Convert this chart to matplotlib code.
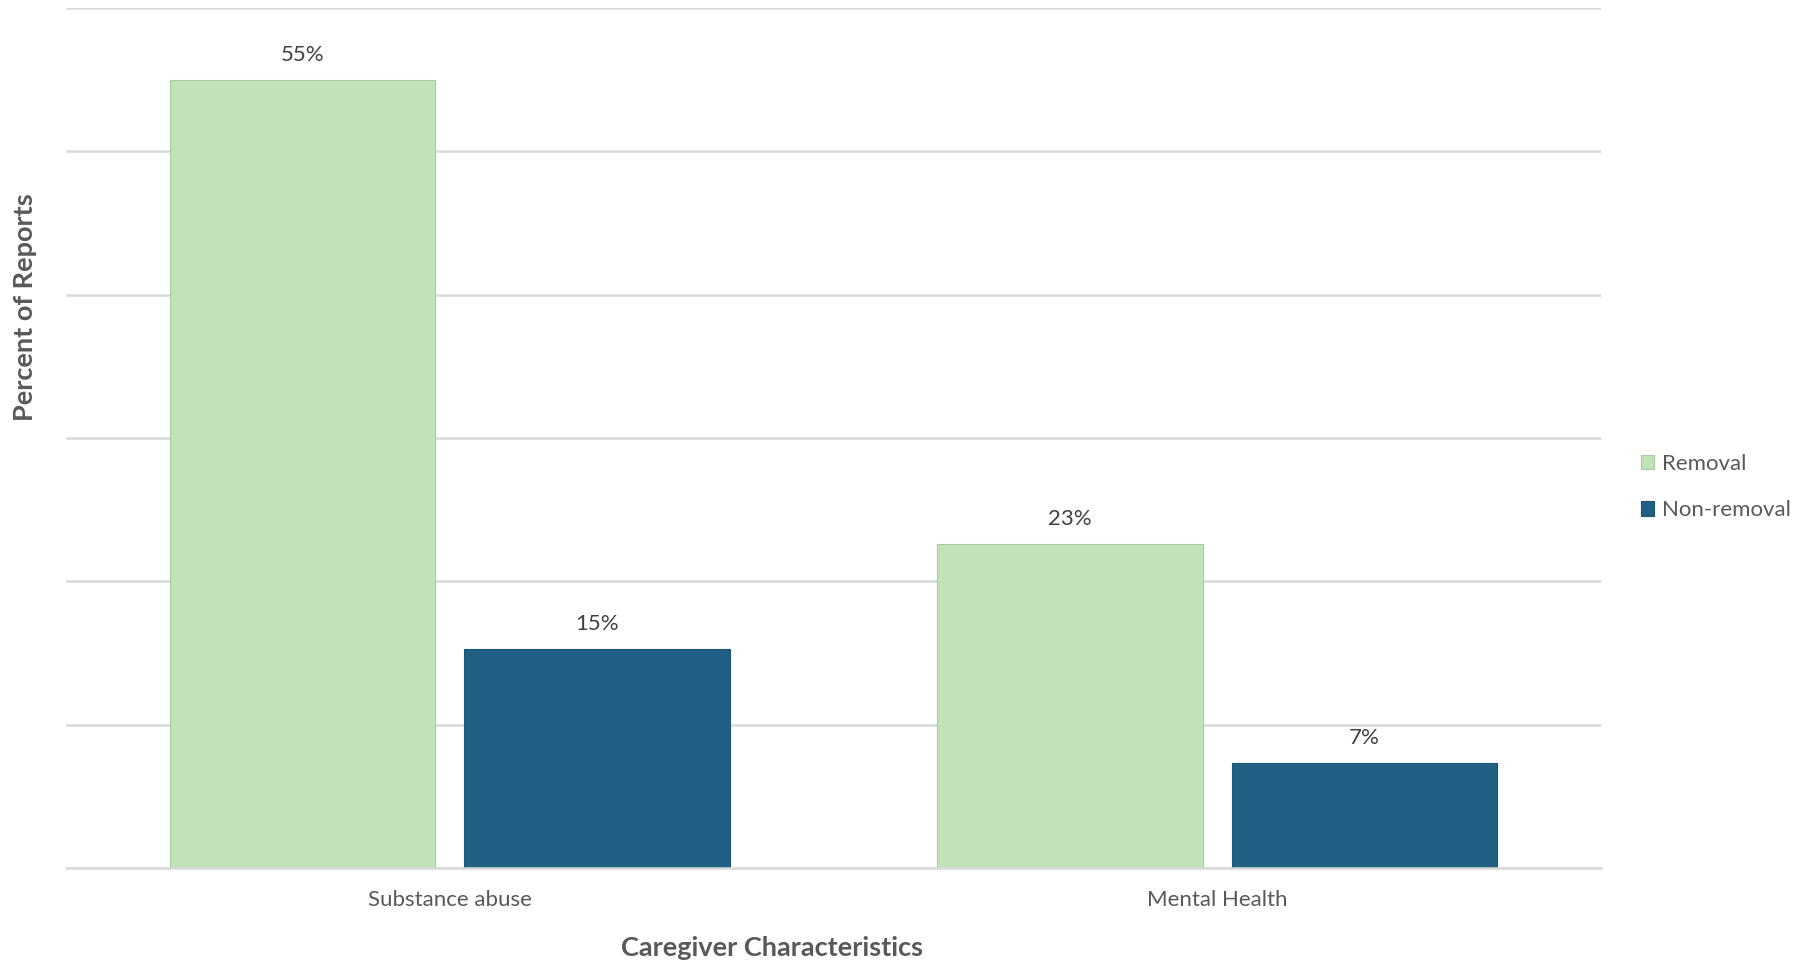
import matplotlib.pyplot as plt
import numpy as np

plt.rcParams['font.family'] = ['Lato', 'DejaVu Sans']

categories = ["Substance abuse", "Mental Health"]
removal = [55, 22.6]
non_removal = [15.3, 7.3]
series_names = ["Removal", "Non-removal"]

green = "#C0E3B9"
blue = "#206085"
grid_col = "#D9D9D9"
text_col = "#595959"

fig = plt.figure(figsize=(18.06, 9.64), dpi=100)
ax = fig.add_axes([66/1806, 1-868/964, (1601-66)/1806, (868-8)/964])

x = np.arange(len(categories))
w = 0.346
off = 0.192
b1 = ax.bar(x - off, removal, w, color=green, edgecolor="#A8CBA2", linewidth=0.8,
            label=series_names[0], zorder=3)
b2 = ax.bar(x + off, non_removal, w, color=blue, edgecolor="#1C5676", linewidth=0.8,
            label=series_names[1], zorder=3)

for bars, vals in [(b1, removal), (b2, non_removal)]:
    for r, v in zip(bars, vals):
        ax.annotate(f"{v:.0f}%", (r.get_x() + r.get_width()/2, r.get_height()),
                    xytext=(0, 18), textcoords="offset points", ha="center", va="center",
                    fontsize=16, color="#404040")

ax.set_xlim(-0.5, 1.5)
ax.set_ylim(0, 60)
ax.set_yticks(np.arange(0, 61, 10))
ax.set_yticklabels([])
ax.yaxis.grid(True, color=grid_col, linewidth=1.8, zorder=0)
ax.tick_params(axis="y", length=0)
ax.set_xticks(x)
ax.set_xticklabels(categories, fontsize=16, color=text_col)
ax.tick_params(axis="x", length=0, pad=16)
for s in ["top", "right", "left"]:
    ax.spines[s].set_visible(False)
ax.spines["bottom"].set_color(grid_col)
ax.spines["bottom"].set_linewidth(1.8)
ax.spines["bottom"].set_zorder(4)

fig.text(25/1806, 1-307/964, "Percent of Reports", rotation=90, ha="center", va="center",
         fontsize=19.5, fontweight="bold", color=text_col)
fig.text(772/1806, 1-948/964, "Caregiver Characteristics", ha="center", va="center",
         fontsize=19.5, fontweight="bold", color=text_col)

leg = fig.legend(handles=[b1, b2], loc="center left", bbox_to_anchor=(1641/1806, 1-487/964),
                 frameon=False, fontsize=16, handlelength=0.6, handleheight=0.6,
                 handletextpad=0.35, labelspacing=1.2, borderaxespad=0, borderpad=0)
for t in leg.get_texts():
    t.set_color(text_col)

fig.savefig("out.png", dpi=100)
